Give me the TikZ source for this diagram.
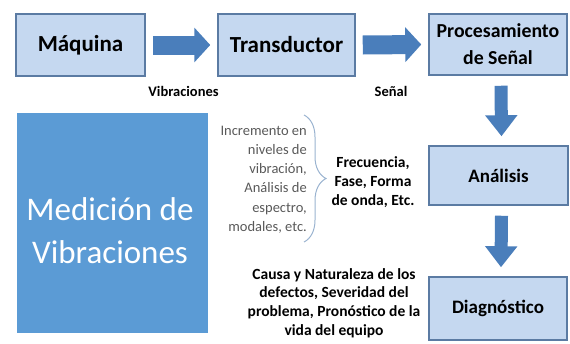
\documentclass[tikz,border=0pt]{standalone}
\usepackage{fontspec}
\setmainfont{Carlito}
\usetikzlibrary{arrows.meta,calc,decorations.pathreplacing}
\definecolor{boxfill}{HTML}{C5D8F0}
\definecolor{boxline}{HTML}{5B7BA3}
\definecolor{arrowblue}{HTML}{4A7EBB}
\definecolor{bigblue}{HTML}{5B9BD5}
\definecolor{graytext}{HTML}{595959}
\definecolor{bracecol}{HTML}{9AB3D0}
\tikzset{
  box/.style={draw=boxline, line width=1.5pt, fill=boxfill, inner sep=0pt, align=center, font=\bfseries\color{black}},
  harrow/.style={draw=arrowblue, line width=19pt, -{Triangle[width=34pt,length=16pt]}},
  varrow/.style={draw=arrowblue, line width=13pt, -{Triangle[width=31pt,length=21pt]}},
  smalllabel/.style={font=\fontsize{14.5}{18}\selectfont\bfseries, align=center, inner sep=0pt},
}
\begin{document}
\begin{tikzpicture}[x=1pt,y=-1pt]
\useasboundingbox (0,0) rectangle (570,343);
% boxes
\node[box, minimum width=129pt, minimum height=62pt, font=\fontsize{23}{26}\selectfont\bfseries] (maq) at (80.5,45) {Máquina};
\node[box, minimum width=137pt, minimum height=62pt, font=\fontsize{23}{26}\selectfont\bfseries] (tra) at (286.5,45) {Transductor};
\node[box, minimum width=138pt, minimum height=61pt, font=\fontsize{19.8}{27}\selectfont\bfseries] (proc) at (498,44.5) {\rule{0pt}{0pt}\raisebox{-2pt}{Procesamiento}\\\raisebox{-2pt}{de Señal}};
\node[box, minimum width=139pt, minimum height=59pt, font=\fontsize{19}{22}\selectfont\bfseries] (ana) at (498.5,175.5) {Análisis};
\node[box, minimum width=138pt, minimum height=63pt, font=\fontsize{19}{22}\selectfont\bfseries] (diag) at (498,308.5) {Diagnóstico};
% big box
\node[fill=bigblue, minimum width=191pt, minimum height=220pt, inner sep=0pt] (big) at (112.5,223) {};
\node[text=white, align=center, inner sep=0pt, font=\fontsize{33}{43}\selectfont] (bigtxt) at (110,231) {Medición de\\Vibraciones};
% arrows
\draw[harrow] ($(maq.east)+(7,0)$) -- ($(tra.west)+(-7,0)$);
\draw[harrow] ($(tra.east)+(7,0)$) -- ($(proc.west)+(-7,0)$);
\draw[varrow] ($(proc.south)+(3,10)$) -- ($(ana.north)+(3,-9)$);
\draw[varrow] ($(ana.south)+(3,10)$) -- ($(diag.north)+(3,-9)$);
% labels
\node[smalllabel] (lvib) at (183.5,91) {Vibraciones};
\node[smalllabel] (lsen) at (391,91) {Señal};
\node[anchor=east, align=right, inner sep=0pt, text=graytext, font=\fontsize{14.5}{19.2}\selectfont] (gray) at (307,179.5) {Incremento en\\niveles de\\vibración,\\Análisis de\\espectro,\\modales, etc.};
\coordinate (btop) at (304,115);
\coordinate (bbot) at (304,242);
\draw[bracecol, line width=1pt, decorate, decoration={brace, amplitude=22pt}] (btop) -- (bbot);
\node[smalllabel, font=\fontsize{15.5}{19}\selectfont\bfseries] (freq) at (373,182) {Frecuencia,\\Fase, Forma\\de onda, Etc.};
\node[smalllabel, font=\fontsize{15.5}{18.7}\selectfont\bfseries] (causa) at (334,303) {Causa y Naturaleza de los\\defectos, Severidad del\\problema, Pronóstico de la\\vida del equipo};
\end{tikzpicture}
\end{document}
